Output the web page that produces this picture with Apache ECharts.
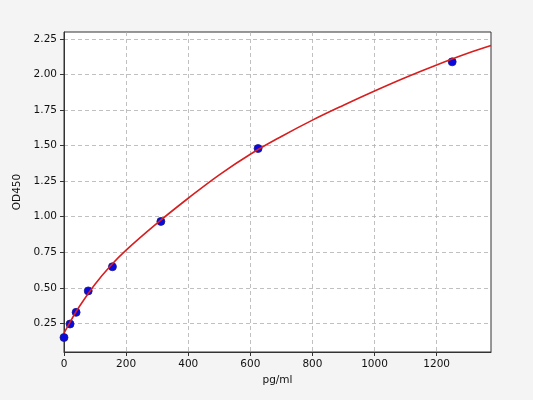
<!DOCTYPE html>
<html>
<head>
<meta charset="utf-8">
<script src="https://cdn.jsdelivr.net/npm/echarts@6/dist/echarts.min.js"></script>
<style>
html, body { margin: 0; padding: 0; background: #f4f4f4; }
#chart { width: 533px; height: 400px; }
</style>
</head>
<body>
<div id="chart"></div>
<script>
// standard points
var conc = [0, 19.5, 39, 78, 156, 312, 625, 1250];
var od = [0.15, 0.245, 0.327, 0.478, 0.648, 0.967, 1.48, 2.09];

// fitted curve
var fitX = [0, 25, 50, 100, 150, 200, 300, 400, 500, 600, 700, 800, 900, 1000, 1100, 1200, 1300, 1375];
var fitY = [0.18, 0.28, 0.37, 0.525, 0.655, 0.765, 0.955, 1.13, 1.295, 1.44, 1.565, 1.68, 1.785, 1.885, 1.98, 2.068, 2.15, 2.205];

var xTicks = [0, 200, 400, 600, 800, 1000, 1200];
var yTicks = [0.25, 0.5, 0.75, 1.0, 1.25, 1.5, 1.75, 2.0, 2.25];

var fontFamily = 'DejaVu Sans';
var gridLine = { show: true, lineStyle: { color: '#b0b0b0', type: [4, 3], width: 0.8 } };

function pairs(xs, ys) {
	var out = [];
	for (var i = 0; i < xs.length; i++) {
		out.push([xs[i], ys[i]]);
	}
	return out;
}

var eChart = echarts.init(document.getElementById('chart'));
eChart.setOption({
	backgroundColor: '#f4f4f4',
	animation: false,
	grid: {
		left: 64, right: 42, top: 32, bottom: 48,
		show: true, backgroundColor: '#ffffff', borderColor: '#333333', borderWidth: 1
	},
	xAxis: {
		type: 'value',
		min: 0,
		max: 1375,
		name: 'pg/ml',
		nameLocation: 'middle',
		nameGap: 23,
		nameTextStyle: { fontFamily: fontFamily, fontSize: 10.5, color: '#111' },
		axisLine: { show: true, onZero: false, lineStyle: { color: '#333333' } },
		axisTick: { show: true, inside: false, length: 4, customValues: xTicks, lineStyle: { color: '#333333' } },
		axisLabel: {
			customValues: xTicks, margin: 7, fontFamily: fontFamily, fontSize: 10.5, color: '#111',
			formatter: function(v) { return String(v); }
		},
		splitLine: gridLine
	},
	yAxis: {
		type: 'value',
		min: 0.048,
		max: 2.30,
		name: 'OD450',
		nameLocation: 'middle',
		nameGap: 38,
		nameTextStyle: { fontFamily: fontFamily, fontSize: 10.5, color: '#111' },
		axisLine: { show: true, onZero: false, lineStyle: { color: '#333333' } },
		axisTick: { show: true, inside: false, length: 4, customValues: yTicks, lineStyle: { color: '#333333' } },
		axisLabel: {
			customValues: yTicks, margin: 7, fontFamily: fontFamily, fontSize: 10.5, color: '#111',
			formatter: function(v) { return v.toFixed(2); }
		},
		splitLine: gridLine
	},
	series: [{
			type: 'scatter',
			data: pairs(conc, od),
			symbolSize: 8,
			itemStyle: { color: '#0a0ae0', borderColor: '#1a1a80', borderWidth: 0.8, opacity: 1 },
			z: 2
		},
		{
			type: 'line',
			data: pairs(fitX, fitY),
			smooth: 0.4,
			showSymbol: false,
			lineStyle: { color: '#d81e1e', width: 1.6 },
			z: 3
		}
	]
});
</script>
</body>
</html>
